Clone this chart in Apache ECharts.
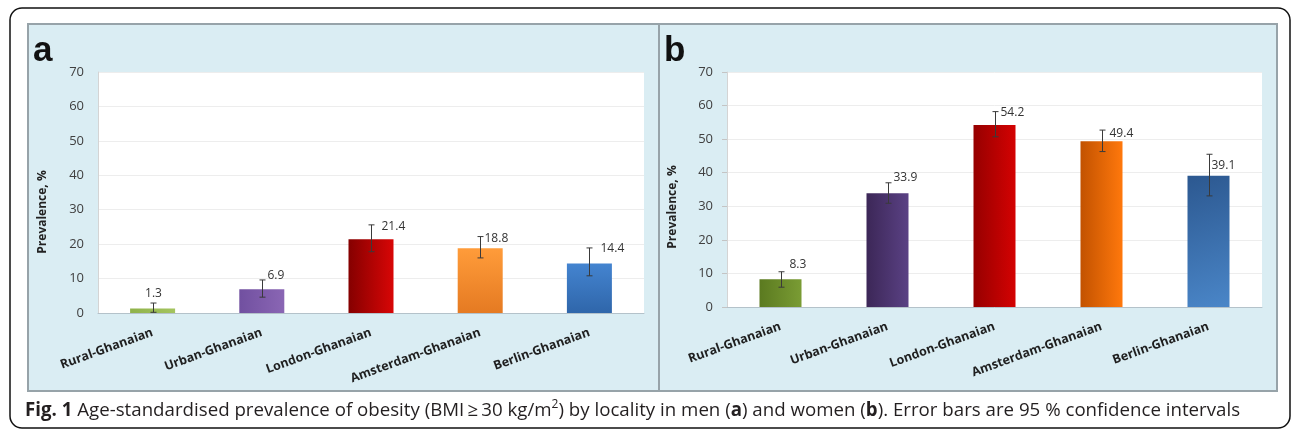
<!DOCTYPE html>
<html>
<head>
<meta charset="utf-8">
<script src="https://cdn.jsdelivr.net/npm/echarts@6/dist/echarts.min.js"></script>
<style>
html,body{margin:0;padding:0;background:#fff;}
#chart{width:1292px;height:436px;}
</style>
</head>
<body>
<div id="chart"></div>
<script>
// ---- data ----
const categories = ['Rural-Ghanaian', 'Urban-Ghanaian', 'London-Ghanaian', 'Amsterdam-Ghanaian', 'Berlin-Ghanaian'];
const menValues   = [1.3, 6.9, 21.4, 18.8, 14.4];
const menLower    = [0.2, 4.6, 17.8, 16.0, 10.8];
const menUpper    = [2.9, 9.6, 25.6, 22.2, 18.9];
const womenValues = [8.3, 33.9, 54.2, 49.4, 39.1];
const womenLower  = [5.9, 30.9, 50.7, 46.3, 33.1];
const womenUpper  = [10.5, 37.0, 58.2, 52.7, 45.5];
const yMin = 0, yMax = 70, yStep = 10;

// ---- styles ----
function lin(x, y, x2, y2, c1, c2) {
  return {type: 'linear', x: x, y: y, x2: x2, y2: y2, colorStops: [{offset: 0, color: c1}, {offset: 1, color: c2}]};
}
const menColors = [
  lin(0, 0, 1, 0, '#8fb24a', '#a4c45f'),
  lin(0, 0, 1, 0, '#7150a0', '#8a66b4'),
  lin(0, 0, 1, 0, '#850000', '#d80606'),
  lin(0, 0, 0, 1, '#ff9c3a', '#e57a22'),
  lin(0, 0, 0, 1, '#4484d0', '#2f66aa')
];
const womenColors = [
  lin(0, 0, 1, 0, '#5b7a20', '#7a9c34'),
  lin(0, 0, 1, 0, '#3c2757', '#5a4184'),
  lin(0, 0, 1, 0, '#960000', '#d40202'),
  lin(0, 0, 1, 0, '#c25200', '#ff780c'),
  lin(0, 0, 1, 1, '#2c5890', '#4a86c8')
];
// label nudges [dx, dy, align] relative to the upper whisker end
const nudgeA = [[0, -9, 'center'], [5, -4, 'left'], [10, 2, 'left'], [4, 2, 'left'], [11, 1, 'left']];
const nudgeB = [[8, -7, 'left'], [5, -5, 'left'], [5, 1, 'left'], [7, 3, 'left'], [2, 11, 'left']];

const FONT = '"Open Sans", "Noto Sans", sans-serif';

function makeErr(nudge) {
  return function (params, api) {
    const i = api.value(0);
    const lo = api.coord([i, api.value(1)]);
    const hi = api.coord([i, api.value(2)]);
    const x = Math.round(hi[0]) + 0.5;
    const n = nudge[params.dataIndex];
    const st = {stroke: '#3a3a3a', lineWidth: 1};
    return {
      type: 'group',
      children: [
        {type: 'line', shape: {x1: x, y1: hi[1], x2: x, y2: lo[1]}, style: st},
        {type: 'line', shape: {x1: x - 3, y1: hi[1], x2: x + 3, y2: hi[1]}, style: st},
        {type: 'line', shape: {x1: x - 3, y1: lo[1], x2: x + 3, y2: lo[1]}, style: st},
        {type: 'text', style: {
          text: api.value(3).toFixed(1), x: x + n[0], y: hi[1] + n[1],
          align: n[2], verticalAlign: 'middle',
          fontSize: 12, fontFamily: FONT, fill: '#333'
        }}
      ]
    };
  };
}

const xAxisBase = {
  type: 'category', data: categories,
  axisTick: {show: false},
  axisLine: {lineStyle: {color: '#b4c2ca', width: 1}},
  axisLabel: {rotate: 20, margin: 19, fontWeight: 'bold', fontSize: 12.5, fontFamily: FONT, color: '#1f1f1f', interval: 0}
};
function yAxisBase(idx, ticks) {
  return {
    gridIndex: idx, type: 'value', min: yMin, max: yMax, interval: yStep,
    axisLine: {show: true, lineStyle: {color: '#d4d4d4'}},
    axisTick: {show: ticks, length: 5, lineStyle: {color: '#c4c4c4'}},
    splitLine: {lineStyle: {color: '#ededed'}},
    axisLabel: {margin: 14, fontSize: 13, fontFamily: FONT, color: '#404040'}
  };
}

const chart = echarts.init(document.getElementById('chart'), null, {renderer: 'canvas'});
chart.setOption({
  animation: false,
  backgroundColor: '#ffffff',
  grid: [
    {left: 98, top: 72, width: 546, height: 241, show: true, backgroundColor: '#ffffff', borderWidth: 0},
    {left: 727, top: 72, width: 535, height: 235, show: true, backgroundColor: '#ffffff', borderWidth: 0}
  ],
  xAxis: [Object.assign({gridIndex: 0}, xAxisBase), Object.assign({gridIndex: 1}, xAxisBase)],
  yAxis: [yAxisBase(0, false), yAxisBase(1, true)],
  series: [
    {type: 'bar', xAxisIndex: 0, yAxisIndex: 0, barWidth: 45,
     data: menValues.map((v, i) => ({value: v, itemStyle: {color: menColors[i]}}))},
    {type: 'custom', xAxisIndex: 0, yAxisIndex: 0, z: 5, renderItem: makeErr(nudgeA),
     encode: {x: 0, y: [1, 2]},
     data: categories.map((c, i) => [i, menLower[i], menUpper[i], menValues[i]])},
    {type: 'bar', xAxisIndex: 1, yAxisIndex: 1, barWidth: 42,
     data: womenValues.map((v, i) => ({value: v, itemStyle: {color: womenColors[i]}}))},
    {type: 'custom', xAxisIndex: 1, yAxisIndex: 1, z: 5, renderItem: makeErr(nudgeB),
     encode: {x: 0, y: [1, 2]},
     data: categories.map((c, i) => [i, womenLower[i], womenUpper[i], womenValues[i]])}
  ],
  graphic: [
    {type: 'rect', z: -30, silent: true, shape: {x: 10, y: 8, width: 1280, height: 420, r: 12},
     style: {fill: '#ffffff', stroke: '#111111', lineWidth: 1.5}},
    {type: 'rect', z: -20, silent: true, shape: {x: 28, y: 24, width: 631, height: 367},
     style: {fill: '#daedf3', stroke: '#97a3a9', lineWidth: 2}},
    {type: 'rect', z: -20, silent: true, shape: {x: 659, y: 24, width: 618, height: 367},
     style: {fill: '#daedf3', stroke: '#97a3a9', lineWidth: 2}},
    {type: 'text', z: 20, style: {text: 'a', x: 33, y: 69, verticalAlign: 'bottom', fontSize: 35, fontWeight: 'bold', fontFamily: '"Liberation Sans", Arial, sans-serif', fill: '#111'}},
    {type: 'text', z: 20, style: {text: 'b', x: 664, y: 69, verticalAlign: 'bottom', fontSize: 35, fontWeight: 'bold', fontFamily: '"Liberation Sans", Arial, sans-serif', fill: '#111'}},
    {type: 'text', z: 20, x: 43, y: 212, rotation: Math.PI / 2,
     style: {text: 'Prevalence, %', x: 0, y: 0, align: 'center', verticalAlign: 'middle', fontSize: 12, fontWeight: 'bold', fontFamily: FONT, fill: '#222'}},
    {type: 'text', z: 20, x: 673, y: 207, rotation: Math.PI / 2,
     style: {text: 'Prevalence, %', x: 0, y: 0, align: 'center', verticalAlign: 'middle', fontSize: 12, fontWeight: 'bold', fontFamily: FONT, fill: '#222'}},
    {type: 'text', z: 20, style: {
      text: '{b|Fig. 1} Age-standardised prevalence of obesity (BMI\u2009\u2265\u200930 kg/m{sup|2}) by locality in men ({b|a}) and women ({b|b}). Error bars are 95 % confidence intervals',
      x: 25, y: 411, verticalAlign: 'middle',
      fontSize: 18.7, fontFamily: FONT, fill: '#231f20', lineHeight: 24,
      rich: {
        b: {fontSize: 18.7, fontFamily: FONT, fontWeight: 'bold', fill: '#231f20', lineHeight: 24},
        sup: {fontSize: 12, fontFamily: FONT, fill: '#231f20', lineHeight: 13, verticalAlign: 'top'}
      }
    }}
  ]
});
</script>
</body>
</html>
